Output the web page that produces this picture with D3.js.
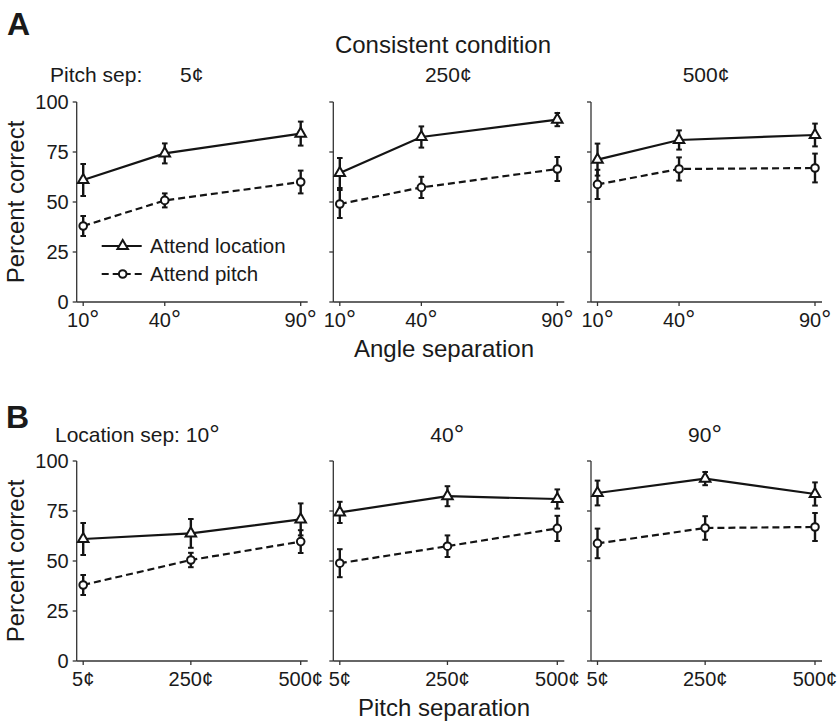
<!DOCTYPE html>
<html lang="en">
<head>
    <meta charset="UTF-8">
    <title>Consistent condition</title>
    <script src="https://d3js.org/d3.v7.min.js"></script>
    <style>
        body { margin: 0; background: #fff; }
        svg text { font-family: "Liberation Sans", Arial, sans-serif; fill: #1a1a1a; }
    </style>
</head>
<body>
    <div id="chart"></div>

    <script type="text/javascript">

        // categories / ticks
        const angleSeps = [10, 40, 90];
        const pitchSeps = [5, 250, 500];
        const angleLabels = ["10°", "40°", "90°"];
        const pitchLabels = ["5¢", "250¢", "500¢"];
        const yTicks = [0, 25, 50, 75, 100];

        // row A: one row per pitch sep panel, values along angle sep
        const locA = [[61, 74.3, 84.2], [64.5, 82.5, 91.2], [71.2, 81, 83.5]];
        const locAerr = [[8, 5, 6], [7.5, 5.3, 3.3], [8, 4.8, 5.7]];
        const pitchA = [[38, 50.8, 60], [49, 57.3, 66.5], [58.8, 66.5, 67]];
        const pitchAerr = [[5, 3.5, 5.7], [7, 5.3, 6], [7.3, 5.8, 7.2]];

        // row B: one row per location sep panel, values along pitch sep
        const locB = [[61, 63.8, 70.8], [74.3, 82.4, 81], [84, 91.2, 83.5]];
        const locBerr = [[8, 7.2, 8], [5.3, 5, 4.8], [6.2, 3.3, 5.8]];
        const pitchB = [[38, 50.5, 59.7], [48.9, 57.4, 66.3], [58.8, 66.5, 67]];
        const pitchBerr = [[5, 3.6, 5.7], [7, 5.4, 6.3], [7.4, 5.9, 7]];

        const width = 838, height = 721;
        const panelX = [76.7, 333.3, 591];
        const panelW = 231;
        const ink = "#141414";

        const svg = d3.select("#chart").append("svg")
            .attr("width", width)
            .attr("height", height);

        const y = d3.scaleLinear().domain([0, 100]);

        // degree sign drawn a bit bigger, like the original's raised "o"
        function setLabel(sel, str) {
            if (str.endsWith("°")) {
                sel.text(str.slice(0, -1));
                sel.append("tspan").attr("font-size", "1.25em").attr("dy", "0.05em").text("°");
            } else {
                sel.text(str);
            }
        }

        function drawPanel(x0, top, xs, xLabels, loc, locErr, pit, pitErr, showYLabels) {
            const bottom = top + 200;
            const x = d3.scaleLinear().domain([xs[0], xs[2]]).range([x0 + 6.5, x0 + 224]);
            const yy = y.copy().range([bottom, top]);
            const g = svg.append("g");

            // axes
            g.append("line").attr("x1", x0).attr("x2", x0).attr("y1", top).attr("y2", bottom)
                .attr("stroke", "#333").attr("stroke-width", 1.3);
            g.append("line").attr("x1", x0).attr("x2", x0 + panelW).attr("y1", bottom).attr("y2", bottom)
                .attr("stroke", "#333").attr("stroke-width", 1.3);

            yTicks.forEach(t => {
                g.append("line").attr("x1", x0 - 4).attr("x2", x0).attr("y1", yy(t)).attr("y2", yy(t))
                    .attr("stroke", "#333").attr("stroke-width", 1.3);
                if (showYLabels) {
                    g.append("text").attr("x", x0 - 8).attr("y", yy(t)).attr("dy", "0.36em")
                        .attr("text-anchor", "end").attr("font-size", 20).text(t);
                }
            });
            xs.forEach((v, i) => {
                g.append("line").attr("x1", x(v)).attr("x2", x(v)).attr("y1", bottom).attr("y2", bottom + 4)
                    .attr("stroke", "#333").attr("stroke-width", 1.3);
                const lab = g.append("text").attr("x", x(v)).attr("y", bottom + 25)
                    .attr("text-anchor", "middle").attr("font-size", 20);
                setLabel(lab, xLabels[i]);
            });

            const line = d3.line().x((d, i) => x(xs[i])).y(d => yy(d));

            g.append("path").datum(loc).attr("d", line).attr("fill", "none")
                .attr("stroke", ink).attr("stroke-width", 2.2);
            g.append("path").datum(pit).attr("d", line).attr("fill", "none")
                .attr("stroke", ink).attr("stroke-width", 2.2).attr("stroke-dasharray", "7,4");

            // error bars
            [[loc, locErr], [pit, pitErr]].forEach(([vals, errs]) => {
                vals.forEach((v, i) => {
                    const cx = x(xs[i]);
                    const y1 = yy(v - errs[i]), y2 = yy(v + errs[i]);
                    g.append("line").attr("x1", cx).attr("x2", cx).attr("y1", y1).attr("y2", y2)
                        .attr("stroke", ink).attr("stroke-width", 2.4);
                    [y1, y2].forEach(cy => {
                        g.append("line").attr("x1", cx - 2.8).attr("x2", cx + 2.8).attr("y1", cy).attr("y2", cy)
                            .attr("stroke", ink).attr("stroke-width", 2);
                    });
                });
            });

            // markers
            g.selectAll(".tri").data(loc).enter().append("path")
                .attr("d", d3.symbol().type(d3.symbolTriangle).size(48))
                .attr("transform", (d, i) => "translate(" + x(xs[i]) + "," + yy(d) + ")")
                .attr("fill", "#fff").attr("stroke", ink).attr("stroke-width", 2);
            g.selectAll(".circ").data(pit).enter().append("circle")
                .attr("cx", (d, i) => x(xs[i])).attr("cy", d => yy(d)).attr("r", 3.8)
                .attr("fill", "#fff").attr("stroke", ink).attr("stroke-width", 2);
        }

        // Row A
        svg.append("text").attr("x", 7).attr("y", 35).attr("font-size", 32).attr("font-weight", "bold").text("A");
        svg.append("text").attr("x", 443).attr("y", 53).attr("text-anchor", "middle").attr("font-size", 24)
            .text("Consistent condition");
        svg.append("text").attr("x", 50).attr("y", 82).attr("font-size", 21).text("Pitch sep:");
        for (let p = 0; p < 3; p++) {
            svg.append("text").attr("x", panelX[p] + 115).attr("y", 82).attr("text-anchor", "middle")
                .attr("font-size", 21).text(pitchLabels[p]);
            drawPanel(panelX[p], 102, angleSeps, angleLabels, locA[p], locAerr[p], pitchA[p], pitchAerr[p], p === 0);
        }
        svg.append("text").attr("x", 444).attr("y", 357).attr("text-anchor", "middle").attr("font-size", 24)
            .text("Angle separation");
        svg.append("text").attr("transform", "translate(24,202) rotate(-90)").attr("text-anchor", "middle")
            .attr("font-size", 24).text("Percent correct");

        // legend
        const leg = svg.append("g");
        leg.append("line").attr("x1", 101.7).attr("x2", 141.7).attr("y1", 246).attr("y2", 246)
            .attr("stroke", ink).attr("stroke-width", 2.2);
        leg.append("path").attr("d", d3.symbol().type(d3.symbolTriangle).size(48)())
            .attr("transform", "translate(122.7,246)").attr("fill", "#fff").attr("stroke", ink).attr("stroke-width", 2);
        leg.append("text").attr("x", 150).attr("y", 253).attr("font-size", 20.5).text("Attend location");
        leg.append("line").attr("x1", 101.7).attr("x2", 141.7).attr("y1", 274).attr("y2", 274)
            .attr("stroke", ink).attr("stroke-width", 2.2).attr("stroke-dasharray", "7,4");
        leg.append("circle").attr("cx", 122.7).attr("cy", 274).attr("r", 3.8)
            .attr("fill", "#fff").attr("stroke", ink).attr("stroke-width", 2);
        leg.append("text").attr("x", 150).attr("y", 281).attr("font-size", 20.5).text("Attend pitch");

        // Row B
        svg.append("text").attr("x", 6).attr("y", 428).attr("font-size", 32).attr("font-weight", "bold").text("B");
        setLabel(svg.append("text").attr("x", 55).attr("y", 442).attr("font-size", 21), "Location sep: " + angleLabels[0]);
        for (let a = 0; a < 3; a++) {
            if (a > 0) {
                setLabel(svg.append("text").attr("x", panelX[a] + 114).attr("y", 442).attr("text-anchor", "middle")
                    .attr("font-size", 21), angleLabels[a]);
            }
            drawPanel(panelX[a], 461, pitchSeps, pitchLabels, locB[a], locBerr[a], pitchB[a], pitchBerr[a], a === 0);
        }
        svg.append("text").attr("x", 444).attr("y", 716).attr("text-anchor", "middle").attr("font-size", 24)
            .text("Pitch separation");
        svg.append("text").attr("transform", "translate(24,561) rotate(-90)").attr("text-anchor", "middle")
            .attr("font-size", 24).text("Percent correct");

    </script>
</body>
</html>
